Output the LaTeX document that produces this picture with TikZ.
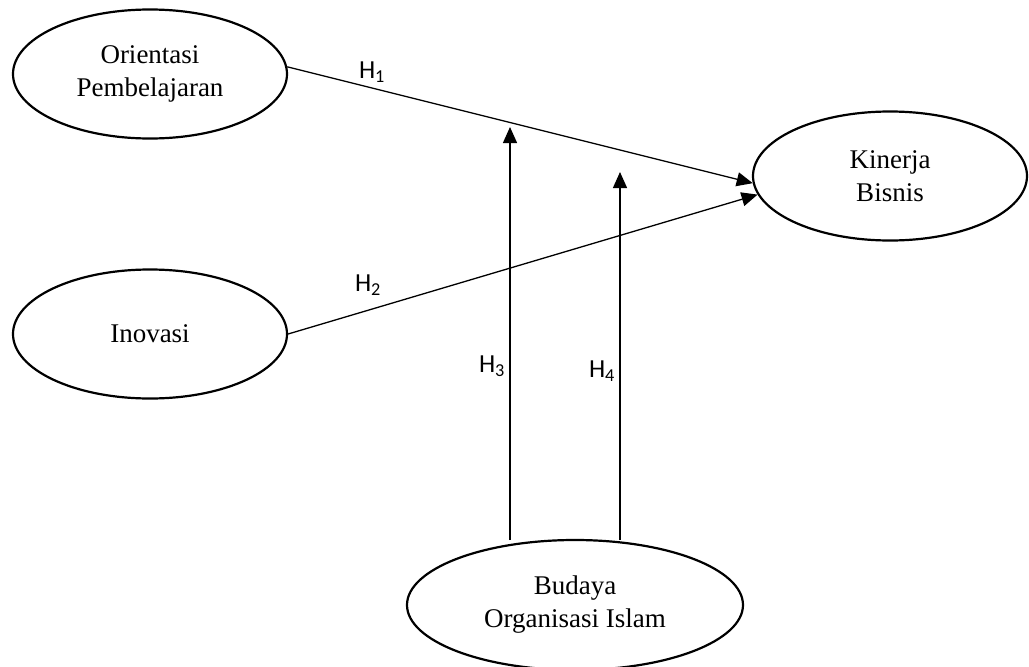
\documentclass[tikz,border=0pt]{standalone}
\usepackage{fontspec}
\setmainfont{Liberation Serif}
\newfontfamily\hfont{Carlito}
\usepackage{tikz}
\usetikzlibrary{shapes.geometric,arrows.meta}

\begin{document}
\begin{tikzpicture}
  [x=1pt,y=-1pt,
   var/.style={ellipse,draw,line width=2.2pt,minimum width=274pt,minimum height=129pt,
     align=center,font=\fontsize{27}{33}\selectfont},
   hyp/.style={font=\hfont\fontsize{26}{30}\selectfont,inner sep=0pt},
   arr/.style={line width=1.3pt,-{Triangle[length=16pt,width=14pt]}}]

  \useasboundingbox (0,0) rectangle (1029,667);

  \node[var] (op) at (150,74) {Orientasi\\Pembelajaran};
  \node[var] (ino) at (150,334) {Inovasi};
  \node[var] (kb) at (890,176) {Kinerja\\Bisnis};
  \node[var,minimum width=336pt,minimum height=130pt] (bo) at (575,605) {Budaya\\Organisasi Islam};

  \coordinate (b3) at (510,540);
  \coordinate (t3) at (510,127);
  \coordinate (b4) at (620,540);
  \coordinate (t4) at (620,172);

  \node[hyp] (h1) at (372,72) {H\textsubscript{1}};
  \node[hyp] (h2) at (368,285) {H\textsubscript{2}};
  \node[hyp] (h3) at (492,366) {H\textsubscript{3}};
  \node[hyp] (h4) at (602,371) {H\textsubscript{4}};

  \foreach \from/\to in {op.3/kb.183,ino.east/kb.188,b3/t3,b4/t4}
    \draw[arr] (\from) -- (\to);
\end{tikzpicture}
\end{document}
